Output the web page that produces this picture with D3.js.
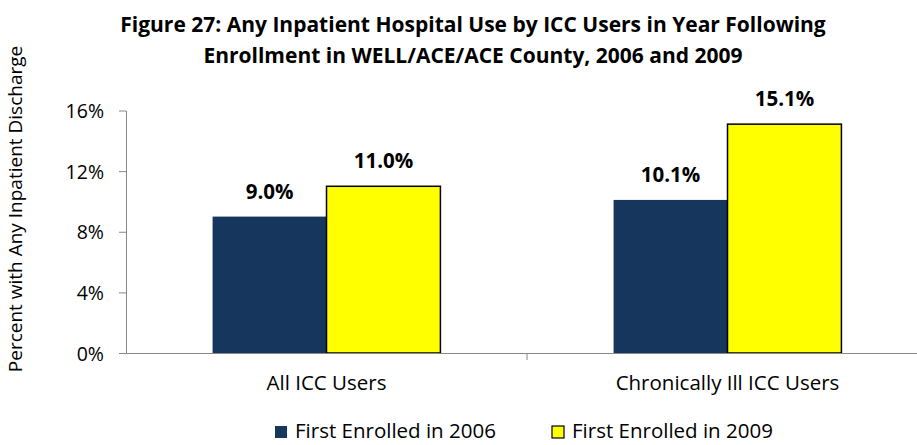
<!DOCTYPE html>
<html>
<head>
<meta charset="utf-8">
<script src="https://cdn.jsdelivr.net/npm/d3@7"></script>
<style>
  body { margin: 0; background: #fff; }
  svg { display: block; font-family: "Open Sans", sans-serif; }
</style>
</head>
<body>
<svg id="chart" width="917" height="445"></svg>
<script>
// data
const categories = ['All ICC Users', 'Chronically Ill ICC Users'];
const seriesNames = ['First Enrolled in 2006', 'First Enrolled in 2009'];
const values2006 = [9.0, 10.1];
const values2009 = [11.0, 15.1];
const yTicks = [0, 4, 8, 12, 16];
const titleLines = [
  'Figure 27: Any Inpatient Hospital Use by ICC Users in Year Following',
  'Enrollment in WELL/ACE/ACE County, 2006 and 2009'
];

const colors = ['#17365d', '#ffff00'];
const strokes = ['none', '#000'];

const svg = d3.select('#chart');
const margin = { left: 126, top: 110.5, bottom: 353 };
const plotRight = 928;

// scales
const x = d3.scaleBand()
  .domain(categories)
  .range([margin.left, plotRight]);

const x1 = d3.scaleBand()
  .domain([0, 1])
  .range([0, x.bandwidth()])
  .paddingInner(0)
  .paddingOuter(0.76);

const y = d3.scaleLinear()
  .domain([0, 16])
  .range([margin.bottom, margin.top]);

// title
svg.append('g')
  .selectAll('text')
  .data(titleLines)
  .enter()
  .append('text')
  .attr('x', 473)
  .attr('y', (d, i) => 32 + i * 31)
  .attr('text-anchor', 'middle')
  .style('font-size', '21px')
  .style('font-weight', 'bold')
  .style('fill', '#000')
  .text(d => d);

// y axis
const yAxis = svg.append('g')
  .attr('transform', `translate(${margin.left},0)`)
  .call(d3.axisLeft(y).tickValues(yTicks).tickFormat(d => d + '%').tickSize(7).tickSizeOuter(0));
yAxis.select('.domain').attr('stroke', '#888');
yAxis.selectAll('.tick line').attr('stroke', '#888');
yAxis.selectAll('.tick text')
  .attr('x', -22)
  .attr('dy', '0.36em')
  .style('font-size', '19.5px')
  .style('font-family', '"Open Sans", sans-serif')
  .style('fill', '#000');

// y axis label
svg.append('text')
  .attr('transform', 'translate(22,209) rotate(-90)')
  .attr('text-anchor', 'middle')
  .style('font-size', '19px')
  .style('fill', '#000')
  .text('Percent with Any Inpatient Discharge');

// bars
const groups = svg.append('g')
  .selectAll('g')
  .data(categories)
  .enter()
  .append('g')
  .attr('transform', d => `translate(${x(d)},0)`);

groups.each(function(cat, ci) {
  const g = d3.select(this);
  const vals = [values2006[ci], values2009[ci]];
  vals.forEach((v, si) => {
    g.append('rect')
      .attr('x', x1(si))
      .attr('y', y(v))
      .attr('width', x1.bandwidth())
      .attr('height', y(0) - y(v))
      .attr('fill', colors[si])
      .attr('stroke', strokes[si])
      .attr('stroke-width', 1.5);
    g.append('text')
      .attr('x', x1(si) + x1.bandwidth() / 2)
      .attr('y', y(v) - 18)
      .attr('text-anchor', 'middle')
      .style('font-size', '20.5px')
      .style('font-weight', 'bold')
      .style('fill', '#000')
      .text(v.toFixed(1) + '%');
  });
});

// x axis
const xAxis = svg.append('g')
  .attr('transform', `translate(0,${margin.bottom})`)
  .call(d3.axisBottom(x).tickSize(0).tickSizeOuter(0));
xAxis.select('.domain').attr('stroke', '#888');
xAxis.selectAll('.tick text')
  .attr('y', 37)
  .attr('dy', 0)
  .style('font-size', '20.5px')
  .style('font-family', '"Open Sans", sans-serif')
  .style('fill', '#000');

// category separator ticks
svg.append('g')
  .selectAll('line')
  .data(categories.slice(1))
  .enter()
  .append('line')
  .attr('x1', d => x(d))
  .attr('x2', d => x(d))
  .attr('y1', margin.bottom)
  .attr('y2', margin.bottom + 7)
  .attr('stroke', '#888');

// legend
const legendX = [275, 552];
const legend = svg.append('g')
  .selectAll('g')
  .data(seriesNames)
  .enter()
  .append('g')
  .attr('transform', (d, i) => `translate(${legendX[i]},426)`);

legend.append('rect')
  .attr('width', 12)
  .attr('height', 12)
  .attr('fill', (d, i) => colors[i])
  .attr('stroke', (d, i) => strokes[i])
  .attr('stroke-width', 1.2);

legend.append('text')
  .attr('x', 20)
  .attr('y', 12)
  .style('font-size', '20.5px')
  .style('fill', '#000')
  .text(d => d);
</script>
</body>
</html>
